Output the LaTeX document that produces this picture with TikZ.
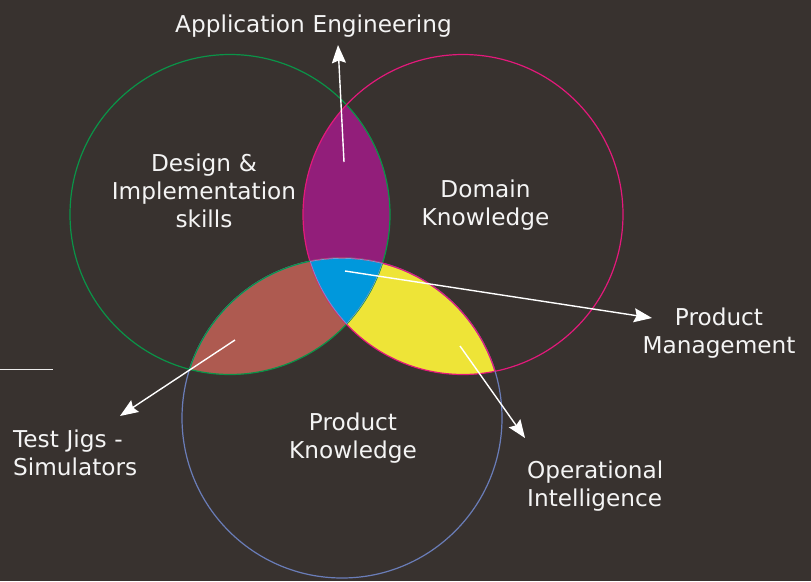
\documentclass[tikz,border=0pt]{standalone}
\usepackage{fontspec}
\setmainfont{DejaVu Sans}
\usetikzlibrary{arrows.meta}
\definecolor{bg}{HTML}{38322F}
\definecolor{cgreen}{HTML}{0A9448}
\definecolor{cpink}{HTML}{E3197B}
\definecolor{cblue}{HTML}{6A7DB8}
\definecolor{fpurple}{HTML}{921E7A}
\definecolor{fbrown}{HTML}{AE5A50}
\definecolor{fyellow}{HTML}{EEE437}
\definecolor{fcyan}{HTML}{0098DC}
\definecolor{cedge}{HTML}{6E9ED8}
\definecolor{txt}{HTML}{F4F4F4}
\tikzset{
  lbl/.style={text=txt, inner sep=0pt, font=\fontsize{23.2}{28.4}\selectfont},
  ctext/.style={lbl, text width=300pt, align=center, anchor=base},
  ltext/.style={lbl, text width=200pt, align=left, anchor=base west},
  pointer/.style={draw=white, line width=1.4pt, -{Stealth[length=18pt,width=14pt,inset=2.5pt]}},
  ring/.style={line width=1.2pt}
}
\begin{document}
\begin{tikzpicture}[x=1pt,y=-1pt]
\fill[bg] (0,0) rectangle (811,581);
\useasboundingbox (0,0) rectangle (811,581);
\def\G{(230,214.5) circle (160)}
\def\P{(463,214.5) circle (160)}
\def\B{(342,418) circle (160)}
% fills
\begin{scope}\clip \G; \fill[fpurple] \P; \end{scope}
\begin{scope}\clip \G; \fill[fbrown] \B; \end{scope}
\begin{scope}\clip \P; \fill[fyellow] \B; \end{scope}
\begin{scope}\clip \G; \clip \P; \fill[fcyan] \B; \end{scope}
% outlines
\draw[ring, cgreen] \G;
\draw[ring, cpink] \P;
\draw[ring, cblue] \B;
\begin{scope}\clip \G; \draw[ring, cgreen] \B; \end{scope}
\begin{scope}\clip \P; \draw[ring, cpink] \B; \end{scope}
\begin{scope}\clip \G; \clip \P; \clip \B;
  \draw[ring, cedge, line width=1.4pt] \G; \draw[ring, cedge, line width=1.4pt] \P; \draw[ring, cedge, line width=1.4pt] \B;
\end{scope}
% left line
\coordinate (l1) at (0,369.5);
\coordinate (l2) at (53,369.5);
\draw[draw=white!85!gray, line width=1.2pt] (l1) -- (l2);
% labels
\node[ctext] (app) at (313.5,32) {Application Engineering};
\node[ctext] (des) at (204,171) {Design \&\\Implementation\\skills};
\node[ctext] (dom) at (485.5,197.5) {Domain\\Knowledge};
\node[ctext] (pm) at (719,325) {Product\\Management};
\node[ctext] (pk) at (353,430.5) {Product\\Knowledge};
\node[ltext] (tj) at (13,447.5) {Test Jigs -\\Simulators};
\node[ltext] (oi) at (527,478.5) {Operational\\Intelligence};
% arrows
\coordinate (a1s) at (344,162); \coordinate (a1e) at (338,45);
\coordinate (a2s) at (345,271); \coordinate (a2e) at (652,318);
\coordinate (a3s) at (235,340); \coordinate (a3e) at (120,416);
\coordinate (a4s) at (460,346); \coordinate (a4e) at (525,438);
\draw[pointer] (a1s) -- (a1e);
\draw[pointer] (a2s) -- (a2e);
\draw[pointer] (a3s) -- (a3e);
\draw[pointer] (a4s) -- (a4e);
\end{tikzpicture}
\end{document}
